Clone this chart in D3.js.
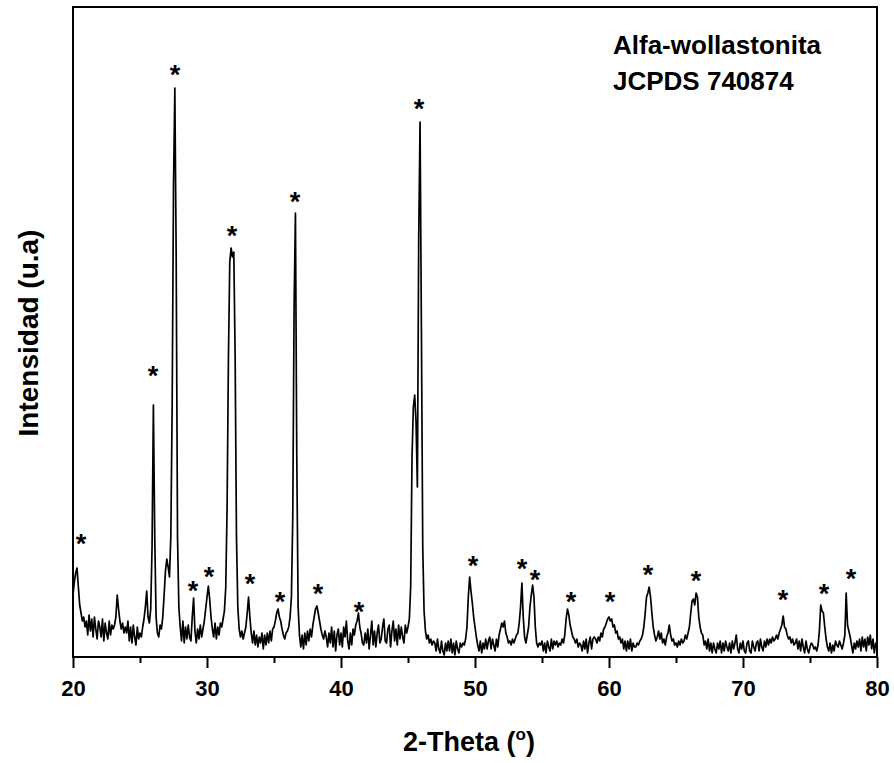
<!DOCTYPE html>
<html>
<head>
<meta charset="utf-8">
<script src="https://cdn.jsdelivr.net/npm/d3@7"></script>
<style>
  body { margin: 0; background: #fff; }
  text { font-family: Arial, "Liberation Sans", sans-serif; font-weight: bold; }
</style>
</head>
<body>
<svg id="chart" width="894" height="763"></svg>
<script>
// 2-theta sampling of the scan (start, step in degrees)
const thetaStart = 20;
const thetaStep = 0.1;

// intensity, one row per degree (20.0 .. 20.9, 21.0 .. 21.9, ...)
const intensity = [
  62, 75, 84, 89, 70, 52, 44, 36, 40, 30,
  36, 22, 42, 26, 38, 20, 40, 28, 18, 36,
  30, 20, 38, 16, 34, 24, 18, 36, 22, 32,
  28, 32, 40, 62, 48, 36, 28, 34, 24, 30,
  24, 36, 16, 30, 14, 32, 20, 12, 30, 18,
  24, 20, 30, 38, 50, 66, 40, 34, 48, 110,
  252, 120, 40, 24, 20, 32, 28, 40, 62, 86,
  98, 90, 80, 120, 250, 470, 569, 400, 120, 50,
  30, 16, 36, 14, 30, 18, 32, 20, 16, 40,
  59, 26, 14, 28, 18, 32, 20, 28, 36, 48,
  60, 71, 58, 40, 28, 20, 34, 18, 30, 22,
  34, 30, 38, 46, 70, 150, 300, 395, 409, 400,
  405, 300, 120, 50, 28, 20, 26, 18, 24, 30,
  44, 60, 40, 24, 14, 26, 12, 22, 10, 20,
  14, 24, 8, 22, 12, 24, 14, 26, 16, 28,
  30, 36, 44, 48, 40, 36, 28, 22, 18, 24,
  26, 30, 40, 60, 140, 350, 444, 200, 50, 22,
  10, 22, 8, 24, 12, 26, 16, 28, 20, 32,
  40, 48, 51, 44, 36, 28, 22, 18, 26, 20,
  10, 24, 14, 30, 10, 26, 6, 22, 28, 12,
  24, 10, 30, 20, 36, 16, 8, 24, 12, 28,
  22, 32, 36, 44, 30, 24, 14, 12, 24, 14,
  28, 8, 22, 36, 12, 26, 10, 24, 32, 14,
  18, 30, 38, 16, 14, 28, 32, 10, 26, 36,
  16, 28, 12, 32, 18, 30, 20, 14, 32, 24,
  30, 38, 70, 200, 250, 262, 235, 170, 420, 535,
  330, 110, 46, 26, 18, 22, 14, 18, 12, 16,
  14, 6, 18, 8, 4, 16, 6, 2, 14, 6,
  16, 6, 18, 4, 14, 2, 16, 8, 4, 14,
  10, 14, 12, 18, 30, 60, 80, 66, 54, 40,
  30, 20, 12, 6, 16, 4, 14, 8, 18, 8,
  16, 20, 8, 18, 12, 6, 18, 10, 22, 28,
  34, 30, 36, 24, 20, 14, 16, 12, 18, 14,
  18, 22, 24, 34, 50, 74, 40, 20, 14, 22,
  30, 50, 62, 72, 60, 30, 14, 10, 14, 12,
  16, 6, 14, 4, 16, 10, 6, 18, 8, 16,
  12, 16, 10, 14, 12, 18, 14, 22, 38, 48,
  42, 32, 26, 20, 18, 14, 18, 10, 14, 12,
  6, 16, 8, 18, 4, 14, 20, 8, 18, 20,
  18, 14, 20, 16, 24, 20, 28, 30, 34, 38,
  40, 36, 38, 30, 32, 24, 26, 18, 20, 14,
  18, 8, 16, 6, 16, 8, 18, 6, 14, 10,
  10, 14, 12, 16, 18, 22, 30, 44, 60, 64,
  70, 60, 44, 30, 22, 16, 20, 26, 18, 24,
  14, 18, 12, 20, 24, 32, 22, 16, 18, 12,
  14, 10, 16, 12, 18, 14, 16, 22, 18, 24,
  30, 44, 56, 58, 52, 64, 60, 40, 30, 24,
  22, 12, 16, 8, 18, 6, 14, 4, 14, 8,
  4, 14, 8, 16, 4, 14, 6, 16, 10, 6,
  14, 4, 16, 8, 14, 22, 8, 4, 14, 8,
  16, 6, 4, 14, 16, 6, 4, 16, 10, 6,
  14, 16, 6, 18, 10, 6, 16, 10, 18, 12,
  18, 14, 20, 16, 18, 22, 18, 24, 28, 32,
  41, 30, 28, 22, 18, 20, 14, 18, 12, 14,
  18, 8, 16, 6, 18, 10, 4, 16, 8, 4,
  10, 14, 12, 8, 10, 6, 12, 26, 52, 46,
  44, 30, 18, 10, 6, 14, 4, 12, 6, 16,
  12, 10, 16, 12, 8, 14, 22, 64, 32, 26,
  20, 12, 4, 14, 8, 16, 10, 18, 6, 20,
  10, 18, 6, 20, 12, 22, 8, 18, 4, 14,
  14
];

// asterisk markers (2-theta, height of the mark in intensity units)
const starTheta  = [20.6, 25.97, 27.61, 28.96, 30.15, 31.87, 33.21, 35.45, 36.57, 38.28, 41.34,
                    45.82, 49.85, 53.51, 54.48, 57.16, 60.07, 62.91, 66.49, 72.99, 76.05, 78.06];
const starHeight = [116, 284, 585, 69, 83, 424, 76, 58, 458, 66, 48,
                    551, 94, 91, 80, 58, 58, 85, 79, 60, 66, 81];

const xTicks = [20, 30, 40, 50, 60, 70, 80];
const xMinorTicks = [25, 35, 45, 55, 65, 75];
const legendLines = ["Alfa-wollastonita", "JCPDS 740874"];

const svg = d3.select("#chart");
const plotLeft = 73, plotRight = 877, plotTop = 7, plotBottom = 657;

const x = d3.scaleLinear().domain([20, 80]).range([plotLeft, plotRight]);
const y = d3.scaleLinear().domain([0, 650]).range([plotBottom, plotTop]);

const points = intensity.map((v, i) => [thetaStart + i * thetaStep, v]);

svg.append("path")
  .datum(points)
  .attr("fill", "none")
  .attr("stroke", "#000")
  .attr("stroke-width", 1.7)
  .attr("stroke-linejoin", "round")
  .attr("d", d3.line().x(d => x(d[0])).y(d => y(d[1])));

// frame
svg.append("rect")
  .attr("x", plotLeft).attr("y", plotTop)
  .attr("width", plotRight - plotLeft).attr("height", plotBottom - plotTop)
  .attr("fill", "none").attr("stroke", "#000").attr("stroke-width", 2);

// bottom axis
const xAxis = svg.append("g")
  .attr("transform", `translate(0,${plotBottom})`)
  .call(d3.axisBottom(x).tickValues(xTicks).tickSize(11).tickPadding(12).tickFormat(d3.format("d")));
xAxis.select(".domain").remove();
xAxis.selectAll(".tick line").attr("stroke-width", 2);
xAxis.selectAll(".tick text")
  .attr("font-size", 22).attr("font-family", "Arial, 'Liberation Sans', sans-serif")
  .attr("font-weight", "bold").attr("fill", "#000");

svg.append("g")
  .attr("transform", `translate(0,${plotBottom})`)
  .call(d3.axisBottom(x).tickValues(xMinorTicks).tickSize(6).tickFormat(""))
  .call(g => g.select(".domain").remove())
  .selectAll(".tick line").attr("stroke-width", 2);

// peak markers
svg.append("g").selectAll("text")
  .data(starTheta)
  .join("text")
  .attr("x", d => x(d))
  .attr("y", (d, i) => y(starHeight[i]) + 12)
  .attr("text-anchor", "middle")
  .attr("font-size", 27)
  .text("*");

// legend
svg.append("g").selectAll("text")
  .data(legendLines)
  .join("text")
  .attr("x", 613)
  .attr("y", (d, i) => 54 + i * 36)
  .attr("font-size", 26)
  .text(d => d);

// axis titles
const xTitle = svg.append("text")
  .attr("x", 469).attr("y", 751)
  .attr("text-anchor", "middle")
  .attr("font-size", 27);
xTitle.append("tspan").text("2-Theta (");
xTitle.append("tspan").attr("font-size", 17).attr("dy", -11).text("o");
xTitle.append("tspan").attr("dy", 11).text(")");

svg.append("text")
  .attr("transform", "translate(38,333) rotate(-90)")
  .attr("text-anchor", "middle")
  .attr("font-size", 28)
  .text("Intensidad (u.a)");
</script>
</body>
</html>
